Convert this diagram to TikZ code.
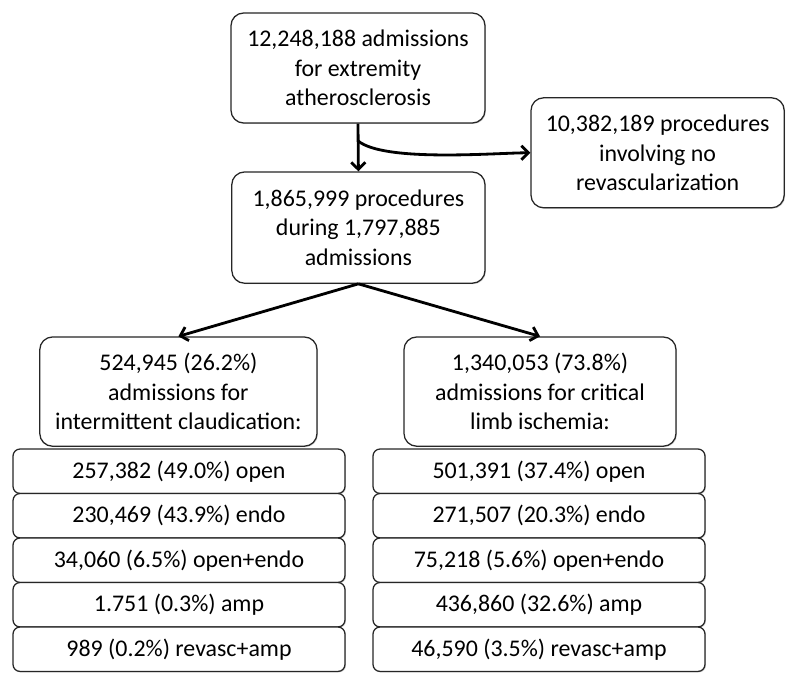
\documentclass[tikz,border=0pt]{standalone}
\usepackage{fontspec}
\setmainfont{Carlito}
\usepackage{tikz}
\usetikzlibrary{arrows.meta,positioning,calc,shadows}

\begin{document}
\begin{tikzpicture}[x=1cm,y=1cm,
  box/.style={draw=black!85,line width=0.9pt,rounded corners=9pt,fill=white,
    align=center,font=\fontsize{17}{21}\selectfont,inner sep=2pt,
    drop shadow={shadow xshift=0.7pt,shadow yshift=-0.7pt,opacity=0.35}},
  row/.style={box,rounded corners=5pt,minimum width=8.3cm,minimum height=1.11cm},
  arr/.style={-{Straight Barb[length=5pt,width=10pt]},line width=2pt}]
  \useasboundingbox (0,0) rectangle (20,17.2);
  \node[box,minimum width=6.35cm,minimum height=2.75cm] (adm) at (8.95,15.5)
    {12,248,188 admissions\\for extremity\\atherosclerosis};
  \node[box,minimum width=6.33cm,minimum height=2.75cm] (norev) at (16.44,13.38)
    {10,382,189 procedures\\involving no\\revascularization};
  \node[box,minimum width=6.33cm,minimum height=2.78cm] (proc) at (8.96,11.51)
    {1,865,999 procedures\\during 1,797,885\\admissions};
  \node[box,minimum width=6.93cm,minimum height=2.73cm] (ic) at (4.46,7.41)
    {524,945 (26.2\%)\\admissions for\\intermittent claudication:};
  \node[box,minimum width=6.8cm,minimum height=2.73cm] (cli) at (13.5,7.41)
    {1,340,053 (73.8\%)\\admissions for critical\\limb ischemia:};
  % sub-groups
  \foreach \txt [count=\i] in {{257,382 (49.0\%) open},{230,469 (43.9\%) endo},
      {34,060 (6.5\%) open+endo},{1.751 (0.3\%) amp},{989 (0.2\%) revasc+amp}}
    \node[row] (ic\i) at (4.475,{5.419-(\i-1)*1.1125}) {\txt};
  \foreach \txt [count=\i] in {{501,391 (37.4\%) open},{271,507 (20.3\%) endo},
      {75,218 (5.6\%) open+endo},{436,860 (32.6\%) amp},{46,590 (3.5\%) revasc+amp}}
    \node[row] (cli\i) at (13.475,{5.419-(\i-1)*1.1125}) {\txt};

  \coordinate (split) at ($(adm.south)+(0,-0.43)$);
  \draw[arr] (adm.south) -- (proc.north);
  \draw[arr] (split) to[out=-40,in=180,looseness=0.5] (norev.west);
  \draw[arr] (proc.south) -- (ic.north);
  \draw[arr] (proc.south) -- (cli.north);
\end{tikzpicture}
\end{document}
